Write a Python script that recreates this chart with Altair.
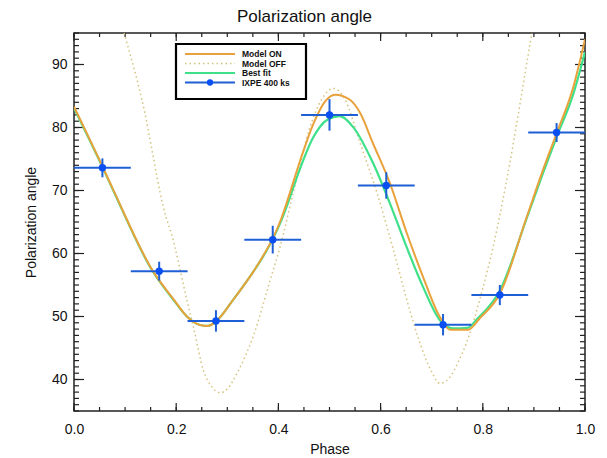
import altair as alt
import pandas as pd

# ---------------- data ----------------
on_phase = [0.0, 0.057, 0.078, 0.153, 0.196, 0.221, 0.245, 0.262, 0.279, 0.311, 0.35, 0.37,
            0.389, 0.405, 0.416, 0.442, 0.468, 0.49, 0.511, 0.54, 0.56, 0.585, 0.618, 0.651,
            0.683, 0.716, 0.736, 0.771, 0.795, 0.834, 0.886, 0.918, 0.945, 0.977, 1.0]
on_angle = [83.3, 73.6, 69.9, 57.4, 52.6, 50.0, 48.7, 48.5, 49.3, 52.6, 57.0, 59.6,
            62.4, 65.4, 68.0, 74.6, 80.5, 84.0, 85.2, 84.4, 82.3, 77.5, 71.2, 63.3,
            56.3, 49.9, 47.9, 47.9, 49.8, 53.7, 65.8, 73.3, 79.2, 86.4, 94.0]

best_phase = [0.0, 0.057, 0.078, 0.153, 0.196, 0.221, 0.245, 0.262, 0.279, 0.311, 0.35, 0.37,
              0.389, 0.405, 0.416, 0.442, 0.468, 0.495, 0.52, 0.546, 0.585, 0.618, 0.651,
              0.683, 0.716, 0.742, 0.77, 0.789, 0.834, 0.886, 0.918, 0.945, 0.977, 1.0]
best_angle = [83.1, 73.5, 69.8, 57.3, 52.5, 50.0, 48.7, 48.5, 49.3, 52.6, 57.0, 59.5,
              62.3, 65.1, 67.4, 73.4, 78.4, 81.2, 81.8, 80.1, 74.4, 68.0, 61.0,
              54.7, 49.4, 48.1, 48.2, 49.6, 54.2, 65.6, 72.8, 78.6, 85.3, 92.0]

off_phase = [0.098, 0.103, 0.133, 0.18, 0.19, 0.221, 0.235, 0.253, 0.27, 0.286, 0.3, 0.319,
             0.35, 0.384, 0.403, 0.429, 0.462, 0.485, 0.508, 0.53, 0.56, 0.593, 0.625, 0.657,
             0.677, 0.7, 0.716, 0.735, 0.752, 0.769, 0.795, 0.82, 0.853, 0.886, 0.896]
off_angle = [95.0, 93.6, 84.4, 65.8, 63.3, 52.6, 47.9, 41.5, 38.8, 37.9, 38.5, 41.0,
             46.7, 55.8, 61.0, 69.6, 80.1, 84.5, 86.2, 84.5, 77.5, 69.6, 60.6, 51.0,
             45.8, 41.2, 39.4, 40.3, 42.8, 46.0, 53.0, 61.0, 74.4, 90.2, 95.0]

ixpe_phase = [0.0556, 0.1667, 0.2778, 0.3889, 0.5, 0.6111, 0.7222, 0.8333, 0.9444]
ixpe_angle = [73.6, 57.2, 49.3, 62.2, 82.0, 70.8, 48.7, 53.4, 79.2]
ixpe_err = [1.5, 1.5, 1.7, 2.2, 2.5, 2.1, 1.7, 1.6, 1.5]
ixpe_half_bin = 0.0556

legend_labels = ["Model ON", "Model OFF", "Best fit", "IXPE 400 ks"]

x_major = [0.0, 0.2, 0.4, 0.6, 0.8, 1.0]
x_minor = [round(0.05 * i, 2) for i in range(21)]
y_major = [40, 50, 60, 70, 80, 90]
y_minor = list(range(35, 96))

# ---------------- styling ----------------
W, H = 511, 378
FONT = "Liberation Sans"
C_ON = "#E9A23B"
C_OFF = "#D6C27E"
C_BEST = "#3EE08A"
C_IXPE = "#1F5FD6"
C_DOT = "#0A4FF2"

x_scale = alt.Scale(domain=[0, 1], nice=False, zero=False)
y_scale = alt.Scale(domain=[35, 95], nice=False, zero=False)
x_axis = alt.Axis(values=x_major, format=".1f", ticks=False, domain=False, grid=False,
                  labelFlush=False, labelPadding=11, title="Phase", titlePadding=6)
y_axis = alt.Axis(values=y_major, format="d", ticks=False, domain=False, grid=False,
                  labelFlush=False, labelPadding=7, title="Polarization angle",
                  titlePadding=13)


def X(field):
    return alt.X(field, type="quantitative", scale=x_scale, axis=x_axis)


def Y(field):
    return alt.Y(field, type="quantitative", scale=y_scale, axis=y_axis)


def curve(ph, ang, color, width, dash=None):
    df = pd.DataFrame({"phase": ph, "angle": ang})
    kw = dict(color=color, strokeWidth=width, clip=True, interpolate="monotone")
    if dash:
        kw["strokeDash"] = dash
    return alt.Chart(df).mark_line(**kw).encode(x=X("phase"), y=Y("angle"))


layers = []

# inward ticks (IDL style) on all four sides
for vals, ln in ((x_minor, 4), (x_major, 8)):
    d = pd.DataFrame({"t": vals})
    layers.append(alt.Chart(d).mark_rule(color="#222", strokeWidth=1.2).encode(
        x=X("t"), y=alt.value(H), y2=alt.value(H - ln)))
    layers.append(alt.Chart(d).mark_rule(color="#222", strokeWidth=1.2).encode(
        x=X("t"), y=alt.value(0), y2=alt.value(ln)))
for vals, ln in ((y_minor, 5), (y_major, 10)):
    d = pd.DataFrame({"t": vals})
    layers.append(alt.Chart(d).mark_rule(color="#222", strokeWidth=1.2).encode(
        y=Y("t"), x=alt.value(0), x2=alt.value(ln)))
    layers.append(alt.Chart(d).mark_rule(color="#222", strokeWidth=1.2).encode(
        y=Y("t"), x=alt.value(W), x2=alt.value(W - ln)))

# curves
layers.append(curve(off_phase, off_angle, C_OFF, 1.5, [1.5, 3]))
layers.append(curve(best_phase, best_angle, C_BEST, 2.2))
layers.append(curve(on_phase, on_angle, C_ON, 2.0))

# IXPE points with error bars
pts = pd.DataFrame({"phase": ixpe_phase, "angle": ixpe_angle, "err": ixpe_err})
pts["x_lo"] = pts["phase"] - ixpe_half_bin
pts["x_hi"] = pts["phase"] + ixpe_half_bin
pts["y_lo"] = pts["angle"] - pts["err"]
pts["y_hi"] = pts["angle"] + pts["err"]
base = alt.Chart(pts)
layers.append(base.mark_rule(color=C_IXPE, strokeWidth=2).encode(
    x=X("x_lo"), x2="x_hi", y=Y("angle")))
layers.append(base.mark_rule(color=C_IXPE, strokeWidth=2).encode(
    x=X("phase"), y=Y("y_lo"), y2="y_hi"))
layers.append(base.mark_circle(color=C_DOT, size=55, opacity=1).encode(
    x=X("phase"), y=Y("angle")))

# legend box
one = pd.DataFrame({"a": [0]})
layers.append(alt.Chart(one).mark_rect(fill="white", stroke="black", strokeWidth=2.2).encode(
    x=alt.value(102), x2=alt.value(232), y=alt.value(11), y2=alt.value(66)))
row_y = [21, 30.5, 40, 49.5]
styles = [(C_ON, 2.0, None), (C_OFF, 1.5, [1.5, 3]), (C_BEST, 2.2, None), (C_IXPE, 2.0, None)]
for lab, yy, (col, sw, dash) in zip(legend_labels, row_y, styles):
    kw = dict(color=col, strokeWidth=sw)
    if dash:
        kw["strokeDash"] = dash
    layers.append(alt.Chart(one).mark_rule(**kw).encode(
        x=alt.value(111), x2=alt.value(161), y=alt.value(yy)))
    layers.append(alt.Chart(pd.DataFrame({"label": [lab]})).mark_text(
        align="left", baseline="middle", font=FONT, fontSize=8.5, fontWeight="bold",
        color="#111").encode(x=alt.value(168), y=alt.value(yy), text="label:N"))
layers.append(alt.Chart(one).mark_circle(color=C_DOT, size=40, opacity=1).encode(
    x=alt.value(136), y=alt.value(row_y[3])))

chart = alt.layer(*layers).properties(
    width=W, height=H,
    title=alt.TitleParams("Polarization angle", font=FONT, fontSize=17, fontWeight="normal",
                          color="#111", anchor="middle", dx=-25, offset=6),
    autosize=alt.AutoSizeParams(type="none"),
    padding={"left": 66, "top": 25, "right": 14, "bottom": 46},
).configure_view(stroke="#222", strokeWidth=1.5).configure_axis(
    labelFont=FONT, titleFont=FONT, labelFontSize=14, titleFontSize=14,
    labelColor="#111", titleColor="#111", titleFontWeight="normal"
)

chart.save("out.html", embed_options={"renderer": "svg", "actions": False})
